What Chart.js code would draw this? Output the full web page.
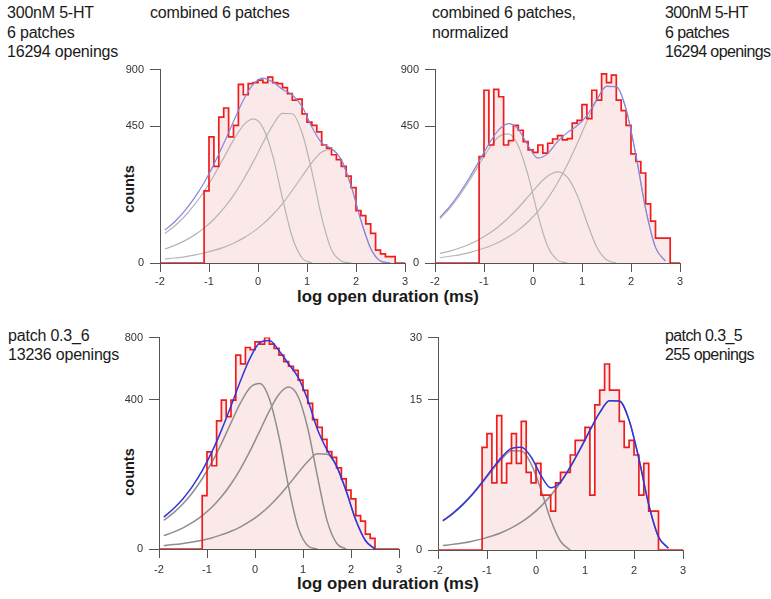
<!DOCTYPE html>
<html>
<head>
<meta charset="utf-8">
<script src="https://cdn.jsdelivr.net/npm/chart.js"></script>
<style>
  html, body { margin: 0; padding: 0; background: #fff; }
  body { width: 771px; height: 599px; position: relative; overflow: hidden;
         font-family: 'Liberation Sans', Arial, sans-serif; color: #1a1a1a; }
  canvas { position: absolute; }
  .note { position: absolute; font-size: 16px; letter-spacing: -0.2px; line-height: 19.5px; white-space: nowrap; }
  .note.right { letter-spacing: -0.6px; }
  .xtitle { position: absolute; font-weight: bold; font-size: 16.8px; white-space: nowrap;
            transform: translate(-50%, -50%); }
  .ytitle { position: absolute; font-weight: bold; font-size: 14.5px; white-space: nowrap;
            transform: translate(-50%, -50%) rotate(-90deg); }
</style>
</head>
<body>

<div class="note" style="left:7px; top:3px;">300nM 5-HT<br>6 patches<br>16294 openings</div>
<div class="note" style="left:150px; top:3px;">combined 6 patches</div>
<div class="note" style="left:432px; top:3px;">combined 6 patches,<br>normalized</div>
<div class="note right" style="left:665px; top:3px;">300nM 5-HT<br>6 patches<br>16294 openings</div>
<div class="note" style="left:8px; top:327px; line-height:18.5px;">patch 0.3_6<br>13236 openings</div>
<div class="note right" style="left:665px; top:327px; line-height:18.5px;">patch 0.3_5<br>255 openings</div>

<div class="ytitle" style="left:129px; top:189px;">counts</div>
<div class="ytitle" style="left:129px; top:472px;">counts</div>
<div class="xtitle" style="left:388px; top:297px;">log open duration (ms)</div>
<div class="xtitle" style="left:388px; top:584px;">log open duration (ms)</div>

<canvas id="p1"></canvas>
<canvas id="p2"></canvas>
<canvas id="p3"></canvas>
<canvas id="p4"></canvas>

<script>
// log10 open duration histograms, 0.1 wide bins starting at -1.1
const binStart = -1.1;
const binWidth = 0.1;
const xTicks = [-2, -1, 0, 1, 2, 3];

// top left: combined 6 patches
const p1Counts = [125, 383, 225, 512, 578, 383, 456, 768, 681, 774, 782, 805, 782, 832, 782, 774,
  740, 691, 638, 646, 535, 478, 456, 414, 335, 317, 282, 257, 225, 182, 137, 66, 54, 37, 21, 4, 2, 1, 1];
const p1Ticks = [0, 450, 900];
// top right: combined, normalized
const p2Counts = [273, 718, 335, 726, 665, 335, 360, 456, 424, 354, 308, 294, 335, 290, 345, 370,
  390, 365, 372, 471, 490, 604, 501, 718, 638, 861, 782, 849, 638, 559, 456, 287, 248, 195, 84, 42, 15, 15, 15];
const p2Ticks = [0, 450, 900];
// bottom left: patch 0.3_6
const p3Counts = [51, 169, 124, 294, 397, 314, 397, 673, 613, 727, 711, 768, 751, 800, 751, 720,
  673, 628, 598, 571, 510, 450, 380, 300, 265, 215, 170, 150, 118, 88, 62, 45, 20, 14, 4, 2];
const p3Ticks = [0, 400, 800];
// bottom right: patch 0.3_5
const p4Counts = [7, 9, 3, 12, 3, 5, 9, 5, 11, 4, 3, 5, 2, 2, 1, 3,
  4, 4, 6, 8, 8, 10, 2, 14, 17, 23, 17, 17, 11, 7, 8, 6, 2, 5, 1, 1];
const p4Ticks = [0, 15, 30];

const fitX = [-1.9, -1.7, -1.5, -1.3, -1.1, -0.9, -0.7, -0.5, -0.3, -0.1, 0.1, 0.3,
  0.5, 0.7, 0.9, 1.1, 1.3, 1.5, 1.7, 1.9, 2.1, 2.3, 2.5, 2.7];

const p1Comp1 = [21, 33, 52, 81, 123, 184, 266, 363, 456, 500, 441, 277, 101, 16, 0.6, 0,
  null, null, null, null, null, null, null, null];
const p1Comp2 = [4.7, 7.5, 11.8, 18.7, 29.3, 46, 71.5, 110, 167, 245, 346, 456, 539, 536, 407, 201,
  50, 4.2, 0.1, 0, null, null, null, null];
const p1Comp3 = [0.4, 0.6, 0.9, 1.5, 2.4, 3.8, 5.9, 9.4, 14.9, 23.3, 36.4, 56, 85, 127, 181, 243,
  297, 311, 256, 143, 44, 5.1, 0.1, 0];
const p1Fit = [26, 41, 65, 101, 155, 234, 343, 482, 638, 768, 823, 789, 725, 679, 589, 444,
  347, 315, 256, 143, 44, 5.1, 0.1, 0];

const p2Comp1 = [47, 72, 110, 163, 233, 314, 383, 401, 330, 185, 56, 6.5, 0.2, 0,
  null, null, null, null, null, null, null, null, null, null];
const p2Comp2 = [2.2, 3.4, 5.4, 8.5, 13.3, 20.8, 32.2, 49.2, 73.5, 106, 145, 182, 200, 177, 111, 40,
  6.2, 0.25, 0, null, null, null, null, null];
const p2Comp3 = [0.66, 1.1, 1.6, 2.6, 4.2, 6.6, 10.4, 16.5, 26, 41, 64, 100, 154, 232, 342, 483,
  636, 751, 748, 568, 280, 70, 5.9, 0.1];
const p2Fit = [50, 76.5, 117, 174, 250, 341, 426, 467, 430, 332, 265, 288, 354, 409, 453, 523,
  642, 751, 748, 568, 280, 70, 5.9, 0.1];

const p3Comp1 = [14.8, 23.4, 36.7, 57.3, 88.4, 134, 199, 285, 383, 467, 490, 403, 225, 69, 8, 0.2,
  0, null, null, null, null, null, null, null];
const p3Comp2 = [3.2, 5.1, 8, 12.6, 19.9, 31.3, 48.9, 75.7, 116, 173, 250, 342, 429, 470, 415, 260,
  95, 14.7, 0.6, 0, null, null, null, null];
const p3Comp3 = [0.23, 0.35, 0.56, 0.9, 1.4, 2.2, 3.6, 5.6, 8.8, 13.8, 21.5, 33.1, 50.1, 73.8, 104, 137,
  162, 161, 122, 60, 15, 1.3, 0, null];
const p3Fit = [18.2, 28.9, 45.3, 70.8, 110, 168, 252, 366, 508, 654, 762, 778, 704, 613, 527, 397,
  257, 176, 123, 60, 15, 1.3, 0, null];

const p4Comp1 = [0.558, 0.868, 1.336, 2.022, 2.977, 4.199, 5.53, 6.537, 6.511, 4.942, 2.439, 0.607, 0.051, 0,
  null, null, null, null, null, null, null, null, null, null];
const p4Comp2 = [0.013, 0.021, 0.032, 0.052, 0.082, 0.131, 0.205, 0.325, 0.514, 0.807, 1.266, 1.97,
  3.031, 4.587, 6.753, 9.526, 12.55, 14.83, 14.77, 11.21, 5.533, 1.377, 0.117, 0.002];
const p4Fit = [0.571, 0.889, 1.368, 2.074, 3.059, 4.33, 5.735, 6.862, 7.025, 5.749, 3.705, 2.577,
  3.082, 4.587, 6.753, 9.526, 12.55, 14.83, 14.77, 11.21, 5.533, 1.377, 0.117, 0.002];

const RED = '#f01c1c';
const PINK = '#fbe9e9';
const AXIS = '#555';

// square-root y axis (counts are plotted on a sqrt scale)
class SqrtScale extends Chart.LinearScale {
  getPixelForValue(value) {
    if (value === null || value === undefined || isNaN(value)) return NaN;
    const range = this.max - this.min;
    return this.getPixelForDecimal(Math.sqrt(Math.max(0, value - this.min) / range));
  }
  getValueForPixel(pixel) {
    const d = this.getDecimalForPixel(pixel);
    return this.min + d * d * (this.max - this.min);
  }
}
SqrtScale.id = 'sqrt';
SqrtScale.defaults = Chart.LinearScale.defaults;
Chart.register(SqrtScale);

// each point holds its bin count until the next bin edge
function histPoints(counts) {
  const pts = [{ x: -2, y: 0 }];
  counts.forEach((c, i) => pts.push({ x: +(binStart + i * binWidth).toFixed(2), y: c }));
  pts.push({ x: +(binStart + counts.length * binWidth).toFixed(2), y: 0 });
  pts.push({ x: 3, y: 0 });
  return pts;
}

function curvePoints(vals) {
  return fitX.map((x, i) => ({ x: x, y: vals[i] }));
}

function makePanel(id, box, o) {
  const cv = document.getElementById(id);
  cv.width = box.w;
  cv.height = box.h;
  cv.style.left = box.x + 'px';
  cv.style.top = box.y + 'px';

  const datasets = [
    { data: curvePoints(o.fit), borderColor: o.fitColor, borderWidth: o.fitWidth,
      cubicInterpolationMode: 'monotone', fill: false },
    { data: histPoints(o.counts), stepped: 'before', borderColor: RED, borderWidth: 1.7, fill: false }
  ];
  o.comps.forEach(c => datasets.push({
    data: curvePoints(c), borderColor: o.compColor, borderWidth: o.compWidth,
    cubicInterpolationMode: 'monotone', fill: false
  }));
  datasets.push({ data: histPoints(o.counts), stepped: 'before', borderWidth: 0,
    borderColor: 'rgba(0,0,0,0)', backgroundColor: PINK, fill: 'origin' });

  new Chart(cv, {
    type: 'line',
    data: { datasets: datasets },
    options: {
      responsive: false,
      animation: false,
      devicePixelRatio: 1,
      layout: { padding: { left: 0, right: 15, top: 10, bottom: 0 } },
      plugins: { legend: { display: false }, tooltip: { enabled: false } },
      elements: { point: { radius: 0 }, line: { tension: 0 } },
      scales: {
        x: {
          type: 'linear', min: -2, max: 3,
          afterBuildTicks: s => { s.ticks = xTicks.map(v => ({ value: v })); },
          afterFit: s => { s.height = 30; },
          grid: { drawOnChartArea: false, drawTicks: true, tickLength: 9, color: AXIS },
          border: { color: AXIS, width: 1 },
          ticks: { color: '#333', padding: o.xPad, maxRotation: 0,
                   font: { family: 'Liberation Sans', size: 11 } }
        },
        y: {
          type: 'sqrt', min: 0, max: o.ticks[o.ticks.length - 1],
          afterBuildTicks: s => { s.ticks = o.ticks.map(v => ({ value: v })); },
          afterFit: s => { s.width = 50; },
          grid: { drawOnChartArea: false, drawTicks: true, tickLength: 10, color: AXIS },
          border: { color: AXIS, width: 1 },
          ticks: { color: '#333', padding: 6, font: { family: 'Liberation Sans', size: 11 } }
        }
      }
    }
  });
}

const topStyle = { fitColor: '#8585e0', fitWidth: 1.2, compColor: '#b5b5b5', compWidth: 1.2, xPad: 3 };
const botStyle = { fitColor: '#3434dd', fitWidth: 1.5, compColor: '#8e8e8e', compWidth: 1.5, xPad: 5 };

makePanel('p1', { x: 110, y: 57, w: 310, h: 236 }, Object.assign({
  counts: p1Counts, ticks: p1Ticks, fit: p1Fit, comps: [p1Comp1, p1Comp2, p1Comp3] }, topStyle));
makePanel('p2', { x: 385, y: 57, w: 310, h: 236 }, Object.assign({
  counts: p2Counts, ticks: p2Ticks, fit: p2Fit, comps: [p2Comp1, p2Comp2, p2Comp3] }, topStyle));
makePanel('p3', { x: 109, y: 325, w: 305, h: 254 }, Object.assign({
  counts: p3Counts, ticks: p3Ticks, fit: p3Fit, comps: [p3Comp1, p3Comp2, p3Comp3] }, botStyle));
makePanel('p4', { x: 388, y: 325, w: 310, h: 255 }, Object.assign({
  counts: p4Counts, ticks: p4Ticks, fit: p4Fit, comps: [p4Comp1, p4Comp2] }, botStyle));
</script>
</body>
</html>
